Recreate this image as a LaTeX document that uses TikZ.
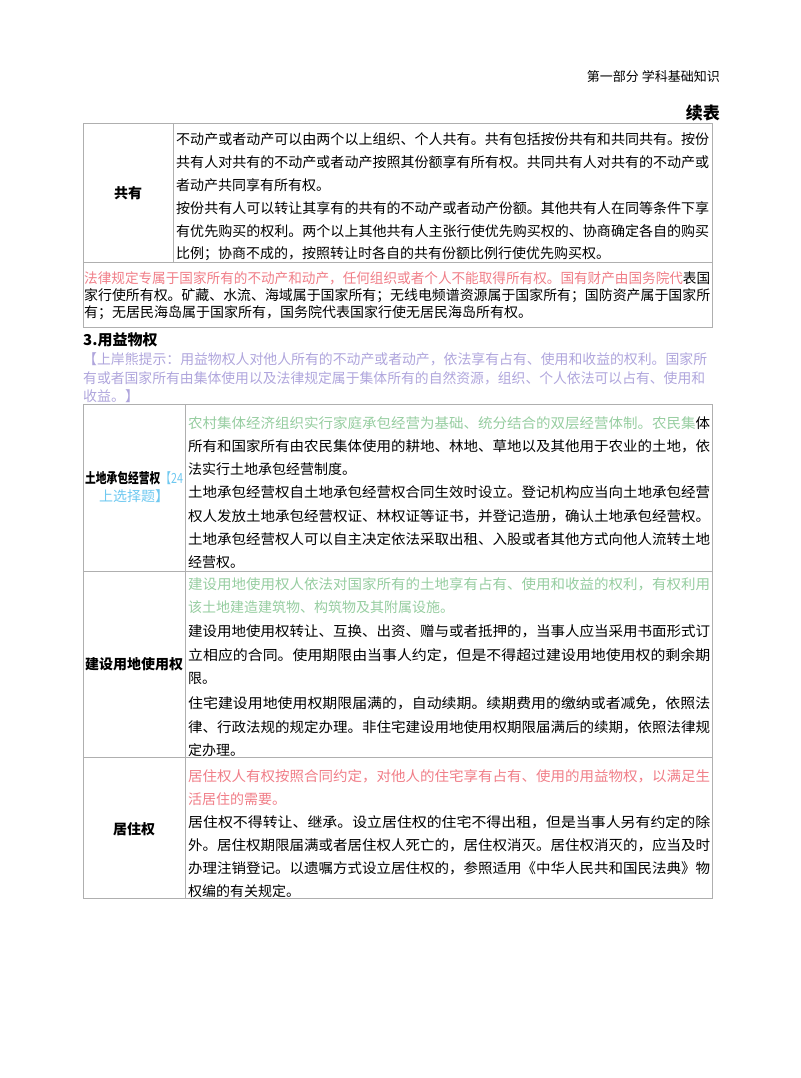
\documentclass[tikz,border=0pt]{standalone}
\usepackage{fontspec}
\usepackage{graphicx}
\setmainfont{Noto Sans CJK SC}
\definecolor{pk}{RGB}{240,125,135}
\definecolor{gn}{RGB}{150,205,160}
\definecolor{cy}{RGB}{110,200,240}
\definecolor{lv}{RGB}{175,165,220}
\definecolor{bd}{RGB}{175,175,175}
\newcommand{\fitw}[2]{\resizebox{#1pt}{\height}{#2}}
\begin{document}
\begin{tikzpicture}[x=1pt,y=-1pt,
  txt/.style={anchor=west,inner sep=0pt,font=\fontsize{14}{14}\selectfont},
  lab/.style={anchor=center,inner sep=0pt,font=\fontsize{14}{14}\selectfont\bfseries},
  rule/.style={draw=bd,line width=1pt}]
\useasboundingbox (0,0) rectangle (800,1078);
\node[anchor=east,inner sep=0pt,font=\fontsize{13}{13}\selectfont] (hd) at (720,77) {第一部分\ 学科基础知识};
\node[anchor=east,inner sep=0pt,font=\fontsize{17}{17}\selectfont\bfseries] (xb) at (720,113) {续表};
% table 1
\draw[rule] (83,124) rectangle (712,327);
\draw[rule] (83,262) -- (712,262);
\draw[rule] (173,124) -- (173,262);
\node[lab] (l1) at (128,193) {共有};
\node[txt] (a1) at (176,139) {\fitw{533}{不动产或者动产可以由两个以上组织、个人共有。共有包括按份共有和共同共有。按份}};
\node[txt] (a2) at (176,162) {\fitw{533}{共有人对共有的不动产或者动产按照其份额享有所有权。共同共有人对共有的不动产或}};
\node[txt] (a3) at (176,185) {者动产共同享有所有权。};
\node[txt] (a4) at (176,208) {\fitw{533}{按份共有人可以转让其享有的共有的不动产或者动产份额。其他共有人在同等条件下享}};
\node[txt] (a5) at (176,231) {\fitw{533}{有优先购买的权利。两个以上其他共有人主张行使优先购买权的、协商确定各自的购买}};
\node[txt] (a6) at (176,254) {比例；协商不成的，按照转让时各自的共有份额比例行使优先购买权。};
\node[txt] (b1) at (84,278) {\fitw{626}{\textcolor{pk}{法律规定专属于国家所有的不动产和动产，任何组织或者个人不能取得所有权。国有财产由国务院代}表国}};
\node[txt] (b2) at (84,296) {\fitw{626}{家行使所有权。矿藏、水流、海域属于国家所有；无线电频谱资源属于国家所有；国防资产属于国家所}};
\node[txt] (b3) at (84,313) {有；无居民海岛属于国家所有，国务院代表国家行使无居民海岛所有权。};
% section
\node[anchor=west,inner sep=0pt,font=\fontsize{15}{15}\selectfont\bfseries] (sec) at (83,340) {3.用益物权};
\node[txt,text=lv] (h1) at (83,359) {\fitw{624}{【上岸熊提示：用益物权人对他人所有的不动产或者动产，依法享有占有、使用和收益的权利。国家所}};
\node[txt,text=lv] (h2) at (83,378) {\fitw{622}{有或者国家所有由集体使用以及法律规定属于集体所有的自然资源，组织、个人依法可以占有、使用和}};
\node[txt,text=lv] (h3) at (83,396) {收益。】};
% table 2
\draw[rule] (83,404) rectangle (712,898);
\draw[rule] (185,404) -- (185,898);
\draw[rule] (83,571) -- (712,571);
\draw[rule] (83,757) -- (712,757);
\node[lab] (l2a) at (134,478) {\fitw{98}{土地承包经营权\textcolor{cy}{\mdseries【24}}};
\node[lab] (l2b) at (134,496) {\textcolor{cy}{\mdseries 上选择题】}};
\node[txt] (c1) at (188,423) {\fitw{522}{\textcolor{gn}{农村集体经济组织实行家庭承包经营为基础、统分结合的双层经营体制。农民集}体}};
\node[txt] (c2) at (188,446) {\fitw{522}{所有和国家所有由农民集体使用的耕地、林地、草地以及其他用于农业的土地，依}};
\node[txt] (c3) at (188,469) {法实行土地承包经营制度。};
\node[txt] (c4) at (188,492) {\fitw{522}{土地承包经营权自土地承包经营权合同生效时设立。登记机构应当向土地承包经营}};
\node[txt] (c5) at (188,516) {\fitw{522}{权人发放土地承包经营权证、林权证等证书，并登记造册，确认土地承包经营权。}};
\node[txt] (c6) at (188,539) {\fitw{522}{土地承包经营权人可以自主决定依法采取出租、入股或者其他方式向他人流转土地}};
\node[txt] (c7) at (188,562) {经营权。};
\node[lab] (l3) at (134,664) {建设用地使用权};
\node[txt,text=gn] (d1) at (188,584) {\fitw{522}{建设用地使用权人依法对国家所有的土地享有占有、使用和收益的权利，有权利用}};
\node[txt,text=gn] (d2) at (188,607) {该土地建造建筑物、构筑物及其附属设施。};
\node[txt] (d3) at (188,631) {\fitw{522}{建设用地使用权转让、互换、出资、赠与或者抵押的，当事人应当采用书面形式订}};
\node[txt] (d4) at (188,655) {\fitw{522}{立相应的合同。使用期限由当事人约定，但是不得超过建设用地使用权的剩余期}};
\node[txt] (d5) at (188,678) {限。};
\node[txt] (d6) at (188,703) {\fitw{522}{住宅建设用地使用权期限届满的，自动续期。续期费用的缴纳或者减免，依照法}};
\node[txt] (d7) at (188,727) {\fitw{522}{律、行政法规的规定办理。非住宅建设用地使用权期限届满后的续期，依照法律规}};
\node[txt] (d8) at (188,750) {定办理。};
\node[lab] (l4) at (134,829) {居住权};
\node[txt,text=pk] (e1) at (188,776) {\fitw{522}{居住权人有权按照合同约定，对他人的住宅享有占有、使用的用益物权，以满足生}};
\node[txt,text=pk] (e2) at (188,799) {活居住的需要。};
\node[txt] (e3) at (188,822) {\fitw{522}{居住权不得转让、继承。设立居住权的住宅不得出租，但是当事人另有约定的除}};
\node[txt] (e4) at (188,845) {\fitw{522}{外。居住权期限届满或者居住权人死亡的，居住权消灭。居住权消灭的，应当及时}};
\node[txt] (e5) at (188,868) {\fitw{522}{办理注销登记。以遗嘱方式设立居住权的，参照适用《中华人民共和国民法典》物}};
\node[txt] (e6) at (188,891) {权编的有关规定。};
\end{tikzpicture}
\end{document}
